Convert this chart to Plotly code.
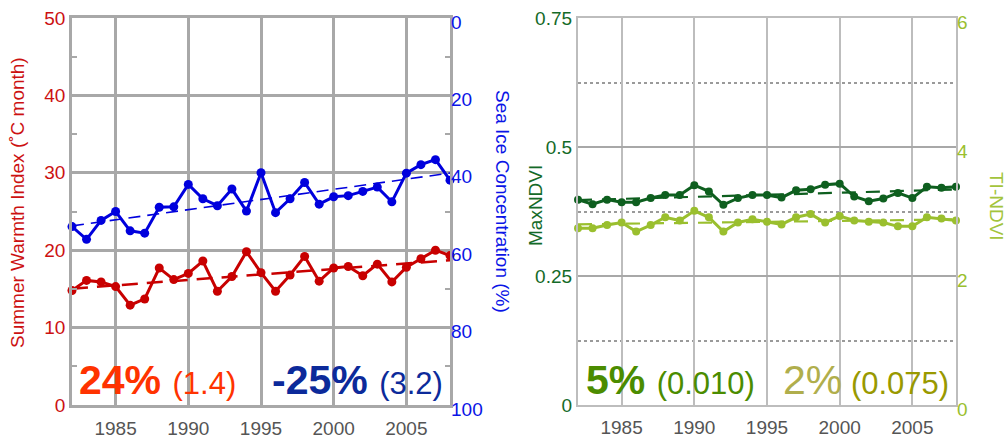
import numpy as np
import plotly.graph_objects as go

# ---------------- data ----------------
years = list(range(1982, 2009))

warmth_index = [14.8, 16.1, 15.9, 15.3, 12.9, 13.7, 17.7, 16.2, 17.0, 18.6,
                14.7, 16.6, 19.8, 17.1, 14.7, 16.8, 19.2, 16.0, 17.7, 17.9,
                16.7, 18.2, 15.9, 17.8, 18.9, 20.0, 19.3]

sea_ice = [53.9, 57.2, 52.3, 50.0, 55.0, 55.6, 48.9, 48.8, 43.0, 46.7,
           48.5, 44.2, 49.9, 40.0, 50.3, 46.7, 42.5, 48.1, 46.2, 45.9,
           44.8, 43.7, 47.5, 40.1, 37.9, 36.6, 41.9]

max_ndvi = [0.398, 0.389, 0.398, 0.393, 0.393, 0.401, 0.407, 0.407, 0.426, 0.414,
            0.388, 0.401, 0.407, 0.407, 0.402, 0.416, 0.418, 0.427, 0.429, 0.404,
            0.395, 0.400, 0.411, 0.401, 0.423, 0.421, 0.423]

ti_ndvi = [2.74, 2.74, 2.79, 2.83, 2.69, 2.79, 2.91, 2.86, 3.01, 2.91,
           2.69, 2.83, 2.88, 2.84, 2.80, 2.91, 2.96, 2.83, 2.93, 2.86,
           2.84, 2.83, 2.77, 2.77, 2.91, 2.89, 2.86]

x_ticks = [1985, 1990, 1995, 2000, 2005]

# ---------------- style ----------------
FONT = "Arial, Liberation Sans, sans-serif"
RED = "#c80000"
RED_TXT = "#cc1111"
BLUE = "#0000dd"
BLUE_TXT = "#0a14e6"
DKGREEN = "#0e5f1f"
LTGREEN = "#9abf2e"
GRID_L = "#a8a8a8"
GRID_R = "#bdbdbd"
TICK_GRAY = "#555555"

W, H = 1008, 440


def dom_x(a, b):
    return [a / W, b / W]


def dom_y(top, bottom):
    return [(H - bottom) / H, (H - top) / H]


def trend(xs, ys):
    k, b = np.polyfit(xs, ys, 1)
    xs = np.asarray(xs, dtype=float)
    return (k * xs + b).tolist()


fig = go.Figure()

# ---- left panel: warmth index + sea ice ----
fig.add_trace(go.Scatter(x=years, y=trend(years, warmth_index), mode="lines",
                         line=dict(color=RED, width=2.5, dash="16px,9px"),
                         xaxis="x", yaxis="y", hoverinfo="skip"))
fig.add_trace(go.Scatter(x=years, y=warmth_index, mode="lines+markers",
                         line=dict(color=RED, width=3), marker=dict(size=9, color=RED),
                         xaxis="x", yaxis="y", cliponaxis=False))
fig.add_trace(go.Scatter(x=years, y=trend(years, sea_ice), mode="lines",
                         line=dict(color=BLUE, width=1.6, dash="12px,7px"),
                         xaxis="x", yaxis="y2", hoverinfo="skip"))
fig.add_trace(go.Scatter(x=years, y=sea_ice, mode="lines+markers",
                         line=dict(color=BLUE, width=3), marker=dict(size=9, color=BLUE),
                         xaxis="x", yaxis="y2", cliponaxis=False))

# ---- right panel: MaxNDVI + TI-NDVI ----
fig.add_trace(go.Scatter(x=years, y=trend(years, ti_ndvi), mode="lines",
                         line=dict(color=LTGREEN, width=2.2, dash="14px,10px"),
                         xaxis="x2", yaxis="y4", hoverinfo="skip"))
fig.add_trace(go.Scatter(x=years, y=ti_ndvi, mode="lines+markers",
                         line=dict(color=LTGREEN, width=3), marker=dict(size=8, color=LTGREEN),
                         xaxis="x2", yaxis="y4", cliponaxis=False))
fig.add_trace(go.Scatter(x=years, y=trend(years, max_ndvi), mode="lines",
                         line=dict(color=DKGREEN, width=2.2, dash="14px,10px"),
                         xaxis="x2", yaxis="y3", hoverinfo="skip"))
fig.add_trace(go.Scatter(x=years, y=max_ndvi, mode="lines+markers",
                         line=dict(color=DKGREEN, width=3), marker=dict(size=8, color=DKGREEN),
                         xaxis="x2", yaxis="y3", cliponaxis=False))

tickfont_x = dict(family=FONT, size=19, color=TICK_GRAY)

xaxis_common = dict(range=[1982, 2008], tickvals=x_ticks, ticks="", tickfont=tickfont_x,
                    ticklabelstandoff=4, showline=True, mirror=True, zeroline=False,
                    automargin=False)

fig.update_layout(
    width=W, height=H,
    margin=dict(l=0, r=0, t=0, b=0),
    paper_bgcolor="white", plot_bgcolor="white",
    showlegend=False,
    font=dict(family=FONT),
    xaxis=dict(domain=dom_x(72, 450), anchor="y", gridcolor=GRID_L, gridwidth=2.5,
               linecolor=GRID_L, linewidth=2.5, **xaxis_common),
    yaxis=dict(domain=dom_y(18, 405), anchor="x", range=[0, 50], dtick=10,
               tickfont=dict(family=FONT, size=19, color=RED_TXT), ticks="",
               gridcolor=GRID_L, gridwidth=2.5, showline=True, linecolor=GRID_L, linewidth=2.5,
               mirror="allticks", zeroline=False, automargin=False,
               minor=dict(dtick=5, ticks="inside", ticklen=5, tickcolor=GRID_L, tickwidth=2)),
    yaxis2=dict(overlaying="y", anchor="x", side="right", range=[100, 0], dtick=20,
                tickfont=dict(family=FONT, size=19, color=BLUE_TXT), ticks="",
                ticklabelshift=-4, automargin=False,
                showgrid=False, zeroline=False, showline=False),
    xaxis2=dict(domain=dom_x(578, 956), anchor="y3", gridcolor=GRID_R, gridwidth=1.8,
                linecolor=GRID_R, linewidth=2.2, **xaxis_common),
    yaxis3=dict(domain=dom_y(18, 405), anchor="x2", range=[0, 0.75], dtick=0.25,
                tickvals=[0, 0.25, 0.5, 0.75], ticktext=["0", "0.25", "0.5", "0.75"],
                tickfont=dict(family=FONT, size=19, color="#146a28"), ticks="",
                gridcolor="#a8a8a8", gridwidth=2, showline=True, linecolor=GRID_R, linewidth=2.2,
                mirror=True, zeroline=False, automargin=False),
    yaxis4=dict(overlaying="y3", anchor="x2", side="right", range=[0, 6], dtick=2,
                tickfont=dict(family=FONT, size=19, color=LTGREEN), ticks="",
                ticklabelshift=4, automargin=False,
                showgrid=False, zeroline=False, showline=False,
                minor=dict(dtick=1, showgrid=True, gridcolor="#9a9a9a", griddash="dot",
                           gridwidth=1.5)),
)

# ---- axis titles ----
titles = [
    ("Summer Warmth Index (˚C month)", 18, 203, -90, RED_TXT),
    ("Sea Ice Concentration (%)", 503, 201, 90, BLUE_TXT),
    ("MaxNDVI", 536, 206, -90, "#146a28"),
    ("TI-NDVI", 996, 206, 90, "#a3c43c"),
]
for text, px, py, ang, col in titles:
    fig.add_annotation(text=text, xref="paper", yref="paper", x=px / W, y=(H - py) / H,
                       xanchor="center", yanchor="middle", textangle=ang, showarrow=False,
                       font=dict(family=FONT, size=19, color=col))

# ---- percentage change labels ----
changes = [
    ("<b>24%</b> ", "#ff3300", "(1.4)", "#ff3300", 77),
    ("<b>-25%</b> ", "#0c2a9a", "(3.2)", "#0c2a9a", 270),
    ("<b>5%</b> ", "#4b8c00", "(0.010)", "#4b8c00", 584),
    ("2%", "#b0ae4c", " (0.075)", "#999900", 781),
]
for big, big_col, small, small_col, px in changes:
    txt = (f"<span style='color:{big_col}'>{big}</span>"
           f"<span style='font-size:31px;color:{small_col}'>{small}</span>")
    fig.add_annotation(text=txt, xref="paper", yref="paper", x=px / W, y=(H - 405) / H,
                       xanchor="left", yanchor="bottom", showarrow=False,
                       font=dict(family=FONT, size=41, color=big_col))

fig.write_html("out.html")
